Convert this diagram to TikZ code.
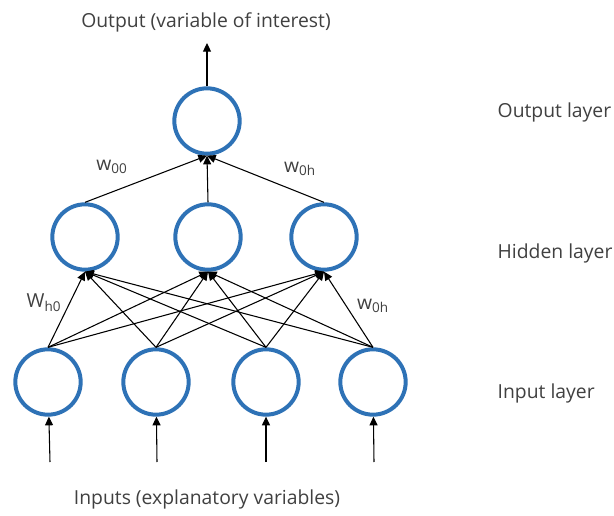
\documentclass[tikz,border=0pt]{standalone}
\usepackage{fontspec}
\setmainfont{Open Sans}
\usetikzlibrary{arrows.meta}
\definecolor{ringblue}{RGB}{46,114,182}
\definecolor{textgray}{RGB}{64,64,64}
\tikzset{
  neuron/.style={circle, draw=ringblue, line width=3pt, minimum size=49pt, inner sep=0pt},
  caption/.style={text=textgray, font=\fontsize{14.5}{17}\selectfont},
  layer/.style={caption, anchor=west},
  weight/.style={caption},
  >={Triangle[length=6.5pt,width=6pt]}
}
\begin{document}
\begin{tikzpicture}[x=0.75pt,y=-0.75pt]
  \useasboundingbox (0,0) rectangle (614,516);
  % neurons
  \draw
    (207,121) node[neuron] (o){}
    (85,237) node[neuron] (h1){}
    (208,237) node[neuron] (h2){}
    (324,237) node[neuron] (h3){}
    (48,382) node[neuron] (i1){}
    (156,382) node[neuron] (i2){}
    (266,382) node[neuron] (i3){}
    (373,382) node[neuron] (i4){};
  % free ends
  \coordinate (out) at (207,43);
  \coordinate (in1) at (50,462);
  \coordinate (in2) at (157,462);
  \coordinate (in3) at (266,462);
  \coordinate (in4) at (374,462);
  % texts
  \node[caption] (outtext) at (206,22) {Output (variable of interest)};
  \node[caption] (intext) at (207,499) {Inputs (explanatory variables)};
  \node[layer] (outlayer) at (493,112) {Output layer};
  \node[layer] (hidlayer) at (493,253) {Hidden layer};
  \node[layer] (inlayer) at (493,393) {Input layer};
  \node[weight] (w1) at (112,167) {w\textsubscript{00}};
  \node[weight] (w2) at (300,169) {w\textsubscript{0h}};
  \node[weight] (w3) at (44,303) {W\textsubscript{h0}};
  \node[weight] (w4) at (373,306) {w\textsubscript{0h}};
  \begin{scope}[->, line width=0.8pt]
    \draw (o) to (out);
    \draw (h1.north) to (o.south);
    \draw (h2.north) to (o.south);
    \draw (h3.north) to (o.south);
    \draw (i1.north) to (h1.south);
    \draw (i1.north) to (h2.south);
    \draw (i1.north) to (h3.south);
    \draw (i2.north) to (h1.south);
    \draw (i2.north) to (h2.south);
    \draw (i2.north) to (h3.south);
    \draw (i3.north) to (h1.south);
    \draw (i3.north) to (h2.south);
    \draw (i3.north) to (h3.south);
    \draw (i4.north) to (h1.south);
    \draw (i4.north) to (h2.south);
    \draw (i4.north) to (h3.south);
    \draw (in1) to (i1);
    \draw (in2) to (i2);
    \draw (in3) to (i3);
    \draw (in4) to (i4);
  \end{scope}
\end{tikzpicture}
\end{document}
